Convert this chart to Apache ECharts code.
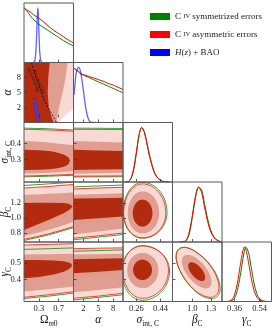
<!DOCTYPE html>
<html><head><meta charset="utf-8">
<script src="https://cdn.jsdelivr.net/npm/echarts@6/dist/echarts.min.js"></script>
<style>html,body{margin:0;padding:0;background:#fff}#c{width:274px;height:332px}</style>
</head><body><div id="c"></div>
<script>
// ---------------- axes ----------------
const OM_RANGE = [0, 1];
const ALPHA_X_RANGE = [0, 10];
const ALPHA_Y_RANGE = [-1, 11];
const SIG_RANGE = [0.16, 0.53];
const BETA_RANGE = [0.68, 1.48];
const GAM_RANGE = [0.27, 0.625];
const DIAG_RANGE = [0, 1.09];

const OM_TICKS = [0.3, 0.7];
const ALPHA_TICKS = [2, 5, 8];
const SIG_X_TICKS = [0.26, 0.44];
const SIG_Y_TICKS = [0.3, 0.4];
const BETA_X_TICKS = [1.0, 1.3];
const BETA_Y_TICKS = [0.8, 1.0, 1.2];
const GAM_X_TICKS = [0.36, 0.54];
const GAM_Y_TICKS = [0.4, 0.5];

// ---------------- 1D posteriors ----------------
const OM_GRID = [0, 0.05, 0.1, 0.15, 0.2, 0.25, 0.3, 0.4, 0.5, 0.6, 0.7, 0.8, 0.9, 1.0];
const OM_SYM  = [1.0, 0.95, 0.89, 0.83, 0.78, 0.74, 0.70, 0.64, 0.58, 0.52, 0.46, 0.40, 0.35, 0.30];
const OM_ASYM = [1.0, 0.97, 0.94, 0.91, 0.87, 0.84, 0.81, 0.74, 0.66, 0.59, 0.53, 0.47, 0.41, 0.36];
const OM_BAO_X = [0.18, 0.2, 0.22, 0.24, 0.25, 0.26, 0.27, 0.28, 0.29, 0.30, 0.31, 0.32, 0.34, 0.36, 0.38];
const OM_BAO   = [0, 0.005, 0.04, 0.2, 0.38, 0.62, 0.88, 1.0, 0.88, 0.6, 0.35, 0.17, 0.03, 0.004, 0];

const ALPHA_GRID = [0, 0.5, 1, 1.5, 2, 3, 4, 5, 6, 7, 8, 9, 10];
const ALPHA_SYM  = [0.99, 0.96, 0.92, 0.88, 0.86, 0.82, 0.78, 0.74, 0.70, 0.66, 0.62, 0.58, 0.54];
const ALPHA_ASYM = [0.99, 0.96, 0.93, 0.89, 0.87, 0.84, 0.81, 0.78, 0.75, 0.71, 0.68, 0.64, 0.60];
const ALPHA_BAO_X = [0.1, 0.3, 0.5, 0.8, 1.1, 1.4, 1.7, 2.0, 2.3, 2.6, 2.9, 3.2, 3.5, 4.0, 4.5];
const ALPHA_BAO   = [0.5, 0.7, 0.88, 0.98, 1.0, 0.93, 0.78, 0.58, 0.37, 0.2, 0.09, 0.03, 0.005, 0, 0];

const SIG_GRID = [0.18, 0.20, 0.22, 0.24, 0.26, 0.28, 0.30, 0.32, 0.34, 0.36, 0.38, 0.40, 0.42, 0.44, 0.46, 0.48, 0.50];
const SIG_SYM  = [0, 0.008, 0.06, 0.22, 0.52, 0.85, 1.0, 0.92, 0.71, 0.48, 0.29, 0.15, 0.075, 0.033, 0.012, 0.004, 0];
const SIG_ASYM = [0, 0.01, 0.07, 0.25, 0.55, 0.87, 1.0, 0.9, 0.68, 0.45, 0.27, 0.14, 0.07, 0.03, 0.01, 0.003, 0];

const BETA_GRID = [0.80, 0.85, 0.90, 0.95, 1.00, 1.05, 1.10, 1.15, 1.20, 1.25, 1.30, 1.35, 1.40, 1.45, 1.48];
const BETA_SYM  = [0, 0.004, 0.022, 0.14, 0.44, 0.79, 0.99, 0.95, 0.68, 0.41, 0.21, 0.095, 0.037, 0.01, 0];
const BETA_ASYM = [0, 0.005, 0.03, 0.18, 0.48, 0.83, 1.0, 0.9, 0.62, 0.36, 0.18, 0.08, 0.03, 0.008, 0];

const GAM_GRID = [0.30, 0.32, 0.34, 0.36, 0.38, 0.40, 0.42, 0.43, 0.44, 0.46, 0.48, 0.50, 0.52, 0.54, 0.56, 0.58, 0.60];
const GAM_SYM  = [0, 0.002, 0.014, 0.06, 0.2, 0.46, 0.78, 0.92, 1.0, 0.9, 0.62, 0.33, 0.14, 0.05, 0.015, 0.003, 0];
const GAM_ASYM = [0, 0.005, 0.03, 0.12, 0.33, 0.65, 0.93, 1.0, 0.97, 0.72, 0.42, 0.2, 0.08, 0.025, 0.006, 0.001, 0];

// ---------------- 2D contours: bands [x, low, high] ----------------
const SIG_OM_R3 = [[0,0.197,0.488],[0.5,0.201,0.484],[1,0.207,0.476]];
const SIG_OM_R2 = [[0,0.213,0.415],[0.25,0.215,0.412],[0.5,0.218,0.406],[0.75,0.222,0.397],[1,0.227,0.388]];
const SIG_OM_R1 = [[0,0.235,0.360],[0.3,0.236,0.358],[0.5,0.239,0.353],[0.6,0.242,0.348],[0.7,0.247,0.341],[0.8,0.255,0.331],[0.86,0.263,0.322],[0.9,0.272,0.312],[0.93,0.292,0.294]];
const SIG_OM_G3 = [[0,0.192,0.495],[0.5,0.196,0.491],[1,0.202,0.483]];
const SIG_OM_G1 = [[0,0.229,0.356],[0.5,0.233,0.349],[0.7,0.24,0.338],[0.8,0.248,0.328],[0.88,0.26,0.312],[0.92,0.285,0.287]];

const SIG_AL_R3 = [[0,0.196,0.488],[10,0.198,0.486]];
const SIG_AL_R2 = [[0,0.212,0.415],[5,0.214,0.41],[10,0.217,0.405]];
const SIG_AL_R1 = [[0,0.235,0.36],[5,0.237,0.356],[10,0.24,0.352]];
const SIG_AL_G3 = [[0,0.191,0.495],[10,0.193,0.493]];
const SIG_AL_G1 = [[0,0.229,0.355],[10,0.234,0.347]];

const BETA_OM_R3 = [[0,0.716,1.40],[0.25,0.75,1.41],[0.5,0.79,1.42],[0.75,0.835,1.435],[1,0.886,1.446]];
const BETA_OM_R2 = [[0,0.76,1.31],[0.25,0.80,1.315],[0.5,0.845,1.322],[0.75,0.895,1.33],[1,0.95,1.34]];
const BETA_OM_R1 = [[0,0.84,1.20],[0.26,0.91,1.205],[0.53,0.985,1.205],[0.8,1.065,1.2],[0.9,1.105,1.19],[0.95,1.13,1.175],[0.98,1.155,1.157]];
const BETA_OM_G3 = [[0,0.70,1.433],[0.5,0.775,1.455],[1,0.872,1.477]];
const BETA_OM_G1 = [[0,0.79,1.19],[0.3,0.87,1.195],[0.6,0.95,1.195],[0.85,1.04,1.18],[0.95,1.1,1.15],[0.99,1.13,1.132]];

const BETA_AL_R3 = [[0,0.73,1.388],[5,0.762,1.40],[10,0.80,1.41]];
const BETA_AL_R2 = [[0,0.78,1.31],[5,0.82,1.32],[10,0.86,1.33]];
const BETA_AL_R1 = [[0,0.975,1.26],[5,0.998,1.265],[10,1.02,1.27]];
const BETA_AL_G3 = [[0,0.71,1.415],[10,0.78,1.44]];
const BETA_AL_G1 = [[0,0.925,1.25],[10,0.975,1.26]];

const GAM_OM_R3 = [[0,0.295,0.607],[0.5,0.31,0.611],[1,0.328,0.615]];
const GAM_OM_R2 = [[0,0.33,0.55],[0.5,0.343,0.552],[1,0.36,0.555]];
const GAM_OM_R1 = [[0,0.408,0.518],[0.3,0.416,0.518],[0.6,0.431,0.515],[0.8,0.447,0.51],[0.9,0.462,0.503],[0.95,0.474,0.496],[0.97,0.485,0.487]];
const GAM_OM_G3 = [[0,0.288,0.581],[0.5,0.302,0.585],[1,0.32,0.59]];
const GAM_OM_G1 = [[0,0.385,0.515],[0.5,0.405,0.512],[0.85,0.437,0.5],[0.95,0.46,0.482],[0.975,0.47,0.472]];

const GAM_AL_R3 = [[0,0.289,0.585],[5,0.302,0.588],[10,0.319,0.59]];
const GAM_AL_R2 = [[0,0.325,0.55],[5,0.338,0.552],[10,0.355,0.555]];
const GAM_AL_R1 = [[0,0.438,0.522],[5,0.447,0.525],[10,0.458,0.528]];
const GAM_AL_G3 = [[0,0.279,0.57],[10,0.31,0.578]];
const GAM_AL_G1 = [[0,0.41,0.518],[10,0.435,0.522]];

// ---------------- 2D contours: ellipses, extents [left, right, down, up] ----------------
const BETA_SIG_C = [0.305, 1.065];
const BETA_SIG_R = [[0.072,0.075,0.18,0.18],[0.11,0.125,0.27,0.29],[0.14,0.175,0.33,0.39]];
const BETA_SIG_GC = [0.306, 1.075];
const BETA_SIG_G = [[0.074,0.077,0.18,0.18],[0.145,0.183,0.345,0.40]];
const BETA_SIG_RHO = 0;

const GAM_SIG_C = [0.305, 0.458];
const GAM_SIG_R = [[0.07,0.072,0.06,0.062],[0.113,0.12,0.108,0.102],[0.147,0.195,0.169,0.145]];
const GAM_SIG_GC = [0.303, 0.452];
const GAM_SIG_G = [[0.072,0.075,0.064,0.06],[0.152,0.205,0.175,0.15]];
const GAM_SIG_RHO = 0;

const GAM_BETA_C = [1.071, 0.448];
const GAM_BETA_R = [[0.137,0.137,0.056,0.056],[0.24,0.24,0.1,0.1],[0.334,0.36,0.153,0.145]];
const GAM_BETA_GC = [1.08, 0.445];
const GAM_BETA_G = [[0.14,0.14,0.058,0.058],[0.34,0.37,0.158,0.148]];
const GAM_BETA_RHO = -0.62;

// alpha vs Omega_m0 panel
const AL_OM_R3 = [[0,-1],[0,11],[1,11],[1,1.8],[0.85,0.6],[0.7,-1]];
const AL_OM_R2 = [[0,-1],[0,11],[0.88,11],[0.84,8],[0.78,5],[0.72,2.5],[0.65,-1]];
const AL_OM_R1 = [[0,-1],[0,11],[0.52,11],[0.49,8],[0.48,5],[0.5,2],[0.56,0],[0.6,-1]];
const BAO_C = [0.255, 1.3];
const BAO_LEVELS = [[0.037,0.037,1.6,1.6],[0.06,0.06,2.6,2.6]];
const BAO_RHO = -0.9;
const DASH_OM = [0.15, 0.2, 0.26, 0.33, 0.41, 0.5, 0.59, 0.66];
const DASH_AL = [11, 9.3, 7.5, 5.5, 3.5, 1.7, 0.2, -1];
const NOTE_TEXT = ['Decelerating', 'Accelerating'];
const NOTE_OM = [0.19, 0.3];
const NOTE_AL = [7.6, 7.2];

// ---------------- layout ----------------
const COLS = [24, 73.5, 123, 172.5, 222, 271.5];
const ROWS = [3, 62.5, 122.5, 182, 242, 301.5];
const FONT = 'Liberation Serif';
const RED1 = 'rgba(176,36,6,0.94)', RED2 = 'rgba(222,150,136,0.9)', RED3 = 'rgba(246,214,206,0.9)';
const GREEN1 = 'rgb(84,118,46)';
const RED_LINE = '#ff2222', GREEN_LINE = '#1a9a1a';
const C_GREEN = '#008000', C_RED = '#ff0000', C_BLUE = '#0000ff';
const N_SYM = 'C IV symmetrized errors', N_ASYM = 'C IV asymmetric errors', N_BAO = 'H(z) + BAO';

const XDEF = [
  {range: OM_RANGE, ticks: OM_TICKS, dec: 1, name: '{G|Ω}{si|m}{s|0}'},
  {range: ALPHA_X_RANGE, ticks: ALPHA_TICKS, dec: 0, name: '{g|α}'},
  {range: SIG_RANGE, ticks: SIG_X_TICKS, dec: 2, name: '{g|σ}{s|int, C}'},
  {range: BETA_RANGE, ticks: BETA_X_TICKS, dec: 1, name: '{g|β}{s|C}'},
  {range: GAM_RANGE, ticks: GAM_X_TICKS, dec: 2, name: '{g|γ}{s|C}'}
];
const YDEF = [null,
  {range: ALPHA_Y_RANGE, ticks: ALPHA_TICKS, dec: 0, name: '{g|α}', nx: 9.5},
  {range: SIG_RANGE, ticks: SIG_Y_TICKS, dec: 1, name: '{g|σ}{s|int, C}', nx: 7},
  {range: BETA_RANGE, ticks: BETA_Y_TICKS, dec: 1, name: '{g|β}{s|C}', nx: 7},
  {range: GAM_RANGE, ticks: GAM_Y_TICKS, dec: 1, name: '{g|γ}{s|C}', nx: 7}
];
const RICH = {
  G: {fontFamily: FONT, fontSize: 11.5, color: '#111', verticalAlign: 'bottom', padding: [0, 0, 2, 0], lineHeight: 12},
  g: {fontFamily: FONT, fontSize: 11.5, fontStyle: 'italic', color: '#111', verticalAlign: 'bottom', padding: [0, 0, 2, 0], lineHeight: 12},
  s: {fontFamily: FONT, fontSize: 7.5, color: '#111', verticalAlign: 'bottom', lineHeight: 9},
  si: {fontFamily: FONT, fontSize: 7.5, fontStyle: 'italic', color: '#111', verticalAlign: 'bottom', lineHeight: 9}
};
const RICH_G = {
  g: {fontFamily: FONT, fontSize: 11.5, fontStyle: 'italic', fill: '#111', verticalAlign: 'bottom', padding: [0, 0, 2, 0], lineHeight: 12},
  s: {fontFamily: FONT, fontSize: 7.5, fill: '#111', verticalAlign: 'bottom', lineHeight: 9}
};

function pairs(xs, ys) { return xs.map((x, i) => [x, ys[i]]); }
function bandPoly(tri) {
  return tri.map(p => [p[0], p[2]]).concat(tri.slice().reverse().map(p => [p[0], p[1]]));
}
function ellPoly(c, e, rho) {
  const pts = [], s = Math.sqrt(1 - rho * rho);
  for (let k = 0; k < 96; k++) {
    const t = 2 * Math.PI * k / 96, ct = Math.cos(t), st = Math.sin(t);
    const u = rho * ct + s * st;
    pts.push([c[0] + (ct >= 0 ? e[1] : e[0]) * ct, c[1] + (u >= 0 ? e[3] : e[2]) * u]);
  }
  return pts;
}
function bandSet(R3, R2, R1, G3, G1) {
  return [
    {pts: bandPoly(G1), fill: GREEN1},
    {pts: bandPoly(R3), fill: RED3},
    {pts: bandPoly(R2), fill: RED2},
    {pts: bandPoly(R1), fill: RED1},
    {pts: G3.map(p => [p[0], p[2]]), stroke: GREEN_LINE},
    {pts: G3.map(p => [p[0], p[1]]), stroke: GREEN_LINE},
    {pts: R3.map(p => [p[0], p[2]]), stroke: RED_LINE},
    {pts: R3.map(p => [p[0], p[1]]), stroke: RED_LINE}
  ];
}
function ellSet(C, R, GC, G, rho) {
  return [
    {pts: ellPoly(GC, G[0], rho), fill: GREEN1},
    {pts: ellPoly(C, R[2], rho), fill: RED3},
    {pts: ellPoly(C, R[1], rho), fill: RED2},
    {pts: ellPoly(C, R[0], rho), fill: RED1},
    {pts: ellPoly(GC, G[1], rho), stroke: GREEN_LINE, closed: true},
    {pts: ellPoly(C, R[2], rho), stroke: RED_LINE, closed: true}
  ];
}
const SHAPES = {
  '1,0': [
    {pts: AL_OM_R3, fill: RED3},
    {pts: AL_OM_R2, fill: RED2},
    {pts: AL_OM_R1, fill: RED1},
    {pts: ellPoly(BAO_C, BAO_LEVELS[1], BAO_RHO), fill: 'rgba(120,120,255,0.35)', stroke: 'rgba(40,40,255,0.85)', closed: true},
    {pts: ellPoly(BAO_C, BAO_LEVELS[0], BAO_RHO), fill: 'rgba(90,90,255,0.45)', stroke: 'rgba(40,40,255,0.85)', closed: true},
    {pts: pairs(DASH_OM, DASH_AL), stroke: '#111', dash: [2, 1.5], lw: 0.9}
  ],
  '2,0': bandSet(SIG_OM_R3, SIG_OM_R2, SIG_OM_R1, SIG_OM_G3, SIG_OM_G1),
  '2,1': bandSet(SIG_AL_R3, SIG_AL_R2, SIG_AL_R1, SIG_AL_G3, SIG_AL_G1),
  '3,0': bandSet(BETA_OM_R3, BETA_OM_R2, BETA_OM_R1, BETA_OM_G3, BETA_OM_G1),
  '3,1': bandSet(BETA_AL_R3, BETA_AL_R2, BETA_AL_R1, BETA_AL_G3, BETA_AL_G1),
  '3,2': ellSet(BETA_SIG_C, BETA_SIG_R, BETA_SIG_GC, BETA_SIG_G, BETA_SIG_RHO),
  '4,0': bandSet(GAM_OM_R3, GAM_OM_R2, GAM_OM_R1, GAM_OM_G3, GAM_OM_G1),
  '4,1': bandSet(GAM_AL_R3, GAM_AL_R2, GAM_AL_R1, GAM_AL_G3, GAM_AL_G1),
  '4,2': ellSet(GAM_SIG_C, GAM_SIG_R, GAM_SIG_GC, GAM_SIG_G, GAM_SIG_RHO),
  '4,3': ellSet(GAM_BETA_C, GAM_BETA_R, GAM_BETA_GC, GAM_BETA_G, GAM_BETA_RHO)
};
const DIAG = [
  [[OM_GRID, OM_SYM, OM_ASYM], [OM_BAO_X, OM_BAO]],
  [[ALPHA_GRID, ALPHA_SYM, ALPHA_ASYM], [ALPHA_BAO_X, ALPHA_BAO]],
  [[SIG_GRID, SIG_SYM, SIG_ASYM], null],
  [[BETA_GRID, BETA_SYM, BETA_ASYM], null],
  [[GAM_GRID, GAM_SYM, GAM_ASYM], null]
];

const grids = [], xAxes = [], yAxes = [], series = [], graphics = [], yLabelJobs = [];
for (let r = 0; r < 5; r++) {
  for (let c = 0; c <= r; c++) {
    const gi = grids.length;
    const L = COLS[c], T = ROWS[r], W = COLS[c + 1] - COLS[c], H = ROWS[r + 1] - ROWS[r];
    grids.push({left: L, top: T, width: W, height: H, show: false, containLabel: false, outerBoundsMode: 'none'});
    graphics.push({type: 'rect', z: 100, silent: true, shape: {x: L, y: T, width: W, height: H},
      style: {fill: 'none', stroke: '#5a5a5a', lineWidth: 1}});
    const xd = XDEF[c];
    xAxes.push({
      type: 'value', gridIndex: gi, min: xd.range[0], max: xd.range[1], z: 10,
      axisLine: {show: false}, splitLine: {show: false},
      axisTick: {show: true, inside: true, length: 3, customValues: xd.ticks, lineStyle: {color: '#333', width: 0.8}},
      axisLabel: {show: r === 4, customValues: xd.ticks, formatter: v => Number(v).toFixed(xd.dec),
        fontSize: 8.5, fontFamily: FONT, color: '#222', margin: 3},
      name: r === 4 ? xd.name : '', nameLocation: 'middle', nameGap: 13,
      nameTextStyle: {rich: RICH}
    });
    if (r === c) {
      yAxes.push({type: 'value', gridIndex: gi, min: DIAG_RANGE[0], max: DIAG_RANGE[1], show: false});
      const d = DIAG[r];
      series.push({type: 'line', name: N_SYM, xAxisIndex: gi, yAxisIndex: gi, data: pairs(d[0][0], d[0][1]),
        showSymbol: false, smooth: 0.3, color: C_GREEN, lineStyle: {width: 1, color: C_GREEN}, silent: true, z: 3});
      series.push({type: 'line', name: N_ASYM, xAxisIndex: gi, yAxisIndex: gi, data: pairs(d[0][0], d[0][2]),
        showSymbol: false, smooth: 0.3, color: C_RED, lineStyle: {width: 1, color: C_RED}, silent: true, z: 4});
      if (d[1]) {
        series.push({type: 'line', name: N_BAO, xAxisIndex: gi, yAxisIndex: gi, data: pairs(d[1][0], d[1][1]),
          showSymbol: false, smooth: 0.3, color: C_BLUE, lineStyle: {width: 1.3, color: 'rgba(30,30,255,0.7)'}, silent: true, z: 5});
      }
    } else {
      const yd = YDEF[r];
      yAxes.push({
        type: 'value', gridIndex: gi, min: yd.range[0], max: yd.range[1], z: 10,
        axisLine: {show: false}, splitLine: {show: false},
        axisTick: {show: true, inside: true, length: 3, customValues: yd.ticks, lineStyle: {color: '#333', width: 0.8}},
        axisLabel: {show: false}
      });
      if (c === 0) {
        graphics.push({type: 'text', silent: true, z: 90, x: yd.nx, y: T + H / 2, rotation: Math.PI / 2,
          style: {text: yd.name, rich: RICH_G, align: 'center', verticalAlign: 'middle', fontFamily: FONT, fill: '#111'}});
        yLabelJobs.push({gi: gi, x: xd.range[0], ticks: yd.ticks, dec: yd.dec});
      }
      const shapes = SHAPES[r + ',' + c];
      const x0 = xd.range[0], y0 = yd.range[0];
      series.push({
        type: 'custom', xAxisIndex: gi, yAxisIndex: gi, silent: true, clip: true, z: 2,
        data: [[x0, y0]],
        renderItem: (params, api) => {
          const cs = params.coordSys;
          return {
            type: 'group',
            clipPath: {type: 'rect', shape: {x: cs.x, y: cs.y, width: cs.width, height: cs.height}},
            children: shapes.map(s => {
              const pts = s.pts.map(p => api.coord(p));
              if (s.fill && !s.stroke) return {type: 'polygon', shape: {points: pts}, style: {fill: s.fill, stroke: null}};
              if (s.fill) return {type: 'polygon', shape: {points: pts}, style: {fill: s.fill, stroke: s.stroke, lineWidth: 0.8}};
              return {type: s.closed ? 'polygon' : 'polyline', shape: {points: pts},
                style: {fill: 'none', stroke: s.stroke, lineWidth: s.lw || 0.9, lineDash: s.dash || null}};
            })
          };
        }
      });
      if (r === 1 && c === 0) {
        series.push({
          type: 'scatter', xAxisIndex: gi, yAxisIndex: gi, symbolSize: 0, silent: true, z: 6,
          data: NOTE_TEXT.map((t, i) => [NOTE_OM[i], NOTE_AL[i], t]),
          label: {show: true, position: 'inside', formatter: p => p.data[2], rotate: -67,
            fontSize: 5, fontFamily: FONT, fontStyle: 'italic', color: '#111'}
        });
      }
    }
  }
}

const chart = echarts.init(document.getElementById('c'), null, {renderer: 'canvas'});
chart.setOption({
  animation: false,
  backgroundColor: '#fff',
  grid: grids, xAxis: xAxes, yAxis: yAxes, series: series,
  graphic: graphics,
  legend: {
    left: 145, top: 7, orient: 'vertical', icon: 'rect', itemWidth: 20, itemHeight: 7, itemGap: 9,
    selectedMode: false,
    data: [{name: N_SYM, itemStyle: {color: C_GREEN}}, {name: N_ASYM, itemStyle: {color: C_RED}}, {name: N_BAO, itemStyle: {color: C_BLUE}}],
    lineStyle: {width: 0},
    formatter: n => n === N_BAO ? '{it|H}({it|z}) + BAO' : n.replace('C IV', 'C {sc|IV}'),
    textStyle: {fontSize: 9, fontFamily: FONT, color: '#222',
      rich: {sc: {fontSize: 6.5, fontFamily: FONT, color: '#222'}, it: {fontSize: 9, fontFamily: FONT, fontStyle: 'italic', color: '#222'}}}
  }
});

// y tick labels of the first column, positioned through each panel's axis scale
const tickTexts = [];
yLabelJobs.forEach(job => {
  job.ticks.forEach(v => {
    const p = chart.convertToPixel({gridIndex: job.gi}, [job.x, v]);
    if (!p) return;
    tickTexts.push({type: 'text', silent: true, z: 120, x: p[0] - 3, y: p[1],
      style: {text: Number(v).toFixed(job.dec), align: 'right', verticalAlign: 'middle',
        fontSize: 8.5, fontFamily: FONT, fill: '#222'}});
  });
});
chart.setOption({graphic: graphics.concat(tickTexts)});
</script></body></html>
